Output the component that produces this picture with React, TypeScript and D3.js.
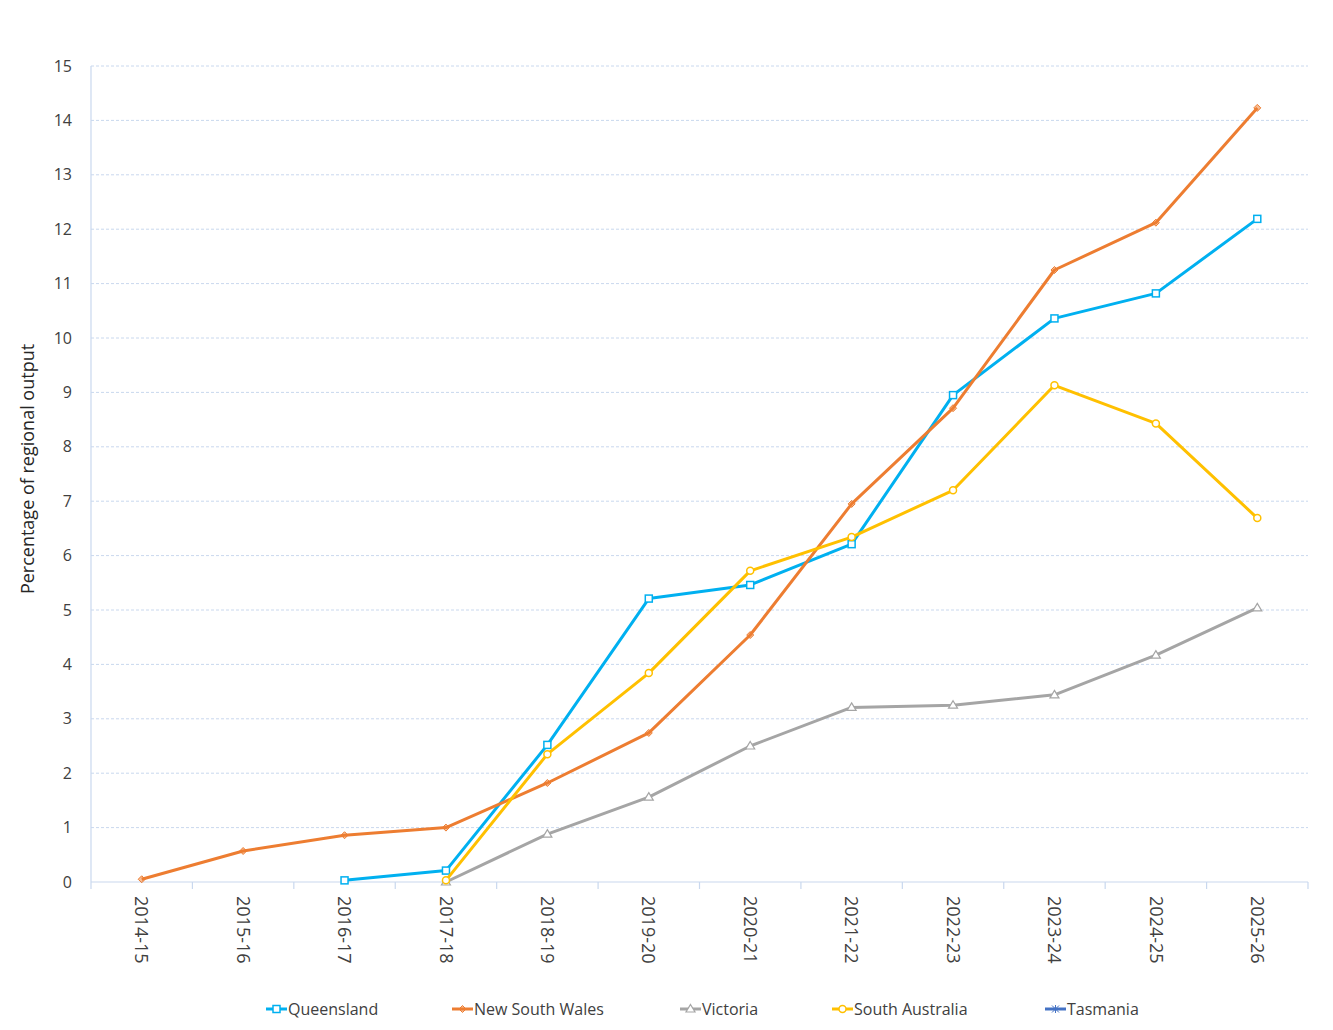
import React from 'react';
import * as d3 from 'd3';

const years = ['2014-15', '2015-16', '2016-17', '2017-18', '2018-19', '2019-20', '2020-21', '2021-22', '2022-23', '2023-24', '2024-25', '2025-26'];

type Pt = number | null;

const queensland: Pt[] = [null, null, 0.03, 0.21, 2.52, 5.21, 5.46, 6.21, 8.95, 10.36, 10.82, 12.19];
const newSouthWales: Pt[] = [0.05, 0.57, 0.86, 1.0, 1.82, 2.74, 4.54, 6.95, 8.71, 11.25, 12.12, 14.23];
const victoria: Pt[] = [null, null, null, 0.0, 0.88, 1.56, 2.5, 3.21, 3.25, 3.44, 4.17, 5.04];
const southAustralia: Pt[] = [null, null, null, 0.03, 2.35, 3.84, 5.72, 6.34, 7.2, 9.13, 8.43, 6.69];
const tasmania: Pt[] = years.map(() => null);

const yTicks = [0, 1, 2, 3, 4, 5, 6, 7, 8, 9, 10, 11, 12, 13, 14, 15];

const series = [
  { name: 'Queensland', values: queensland, color: '#00b0f0', marker: 'square' },
  { name: 'New South Wales', values: newSouthWales, color: '#ed7d31', marker: 'diamond' },
  { name: 'Victoria', values: victoria, color: '#a5a5a5', marker: 'triangle' },
  { name: 'South Australia', values: southAustralia, color: '#ffc000', marker: 'circle' },
  { name: 'Tasmania', values: tasmania, color: '#4472c4', marker: 'star' },
];

const legendX = [266, 452, 680, 832, 1045];

const W = 1333;
const H = 1030;
const left = 91;
const right = 1308;
const top = 66;
const bottom = 882;
const font = '"Open Sans", "Noto Sans", sans-serif';

function Marker({ kind, x, y, color }: { kind: string; x: number; y: number; color: string }) {
  if (kind === 'square') {
    return <rect x={x - 3.5} y={y - 3.5} width={7} height={7} fill="white" stroke={color} strokeWidth={1.5} />;
  }
  if (kind === 'diamond') {
    return <path d={`M${x},${y - 3.5}L${x + 3.5},${y}L${x},${y + 3.5}L${x - 3.5},${y}Z`} fill={color} fillOpacity={0.5} stroke={color} strokeWidth={1} />;
  }
  if (kind === 'triangle') {
    return <path d={`M${x},${y - 4.5}L${x + 4.5},${y + 3}L${x - 4.5},${y + 3}Z`} fill="white" stroke={color} strokeWidth={1.2} />;
  }
  if (kind === 'circle') {
    return <circle cx={x} cy={y} r={3.5} fill="white" stroke={color} strokeWidth={1.5} />;
  }
  return (
    <g stroke={color} strokeWidth={1}>
      <line x1={x - 3.5} y1={y - 3.5} x2={x + 3.5} y2={y + 3.5} />
      <line x1={x - 3.5} y1={y + 3.5} x2={x + 3.5} y2={y - 3.5} />
      <line x1={x} y1={y - 4} x2={x} y2={y + 4} />
    </g>
  );
}

export default function App() {
  const x = d3.scaleBand<string>().domain(years).range([left, right]);
  const y = d3.scaleLinear().domain([0, 15]).range([bottom, top]);
  const cx = (d: string) => (x(d) ?? 0) + x.bandwidth() / 2;

  const line = d3
    .line<Pt>()
    .defined((d) => d !== null)
    .x((_d, i) => cx(years[i]))
    .y((d) => y(d as number));

  const boundaries = years.map((d) => x(d) ?? 0).concat([right]);

  return (
    <svg width={W} height={H} style={{ display: 'block', position: 'absolute', left: 0, top: 0 }} fontFamily={font}>
      <rect width={W} height={H} fill="white" />
      {yTicks.map((t) => (
        <g key={t}>
          {t > 0 && (
            <line x1={left} x2={right} y1={y(t)} y2={y(t)} stroke="#c9d8ee" strokeWidth={1} strokeDasharray="3,2" />
          )}
          <text x={72} y={y(t)} dy="0.35em" textAnchor="end" fontSize={16} fill="#404040">
            {t}
          </text>
        </g>
      ))}
      <line x1={left} x2={left} y1={top} y2={bottom} stroke="#c9d8ee" strokeWidth={1.2} />
      <line x1={left} x2={right} y1={bottom} y2={bottom} stroke="#c9d8ee" strokeWidth={1.2} />
      {boundaries.map((b, i) => (
        <line key={i} x1={b} x2={b} y1={bottom} y2={bottom + 7} stroke="#c9d8ee" strokeWidth={1.2} />
      ))}
      {years.map((d) => (
        <text
          key={d}
          transform={`translate(${cx(d)},${bottom + 14}) rotate(90)`}
          dy="0.35em"
          textAnchor="start"
          fontSize={18}
          fill="#404040"
        >
          {d}
        </text>
      ))}
      <text transform={`translate(34,${(top + bottom) / 2 - 5}) rotate(-90)`} textAnchor="middle" fontSize={18} fill="#262626">
        Percentage of regional output
      </text>
      {series.map((s) => (
        <g key={s.name}>
          <path d={line(s.values) ?? ''} fill="none" stroke={s.color} strokeWidth={3} strokeLinejoin="round" />
          {s.values.map((v, i) =>
            v === null ? null : <Marker key={i} kind={s.marker} x={cx(years[i])} y={y(v)} color={s.color} />
          )}
        </g>
      ))}
      {series.map((s, i) => (
        <g key={s.name}>
          <line x1={legendX[i]} x2={legendX[i] + 21} y1={1009} y2={1009} stroke={s.color} strokeWidth={3} />
          <Marker kind={s.marker} x={legendX[i] + 10.5} y={1009} color={s.color} />
          <text x={legendX[i] + 22} y={1009} dy="0.35em" fontSize={16} fill="#404040">
            {s.name}
          </text>
        </g>
      ))}
    </svg>
  );
}
